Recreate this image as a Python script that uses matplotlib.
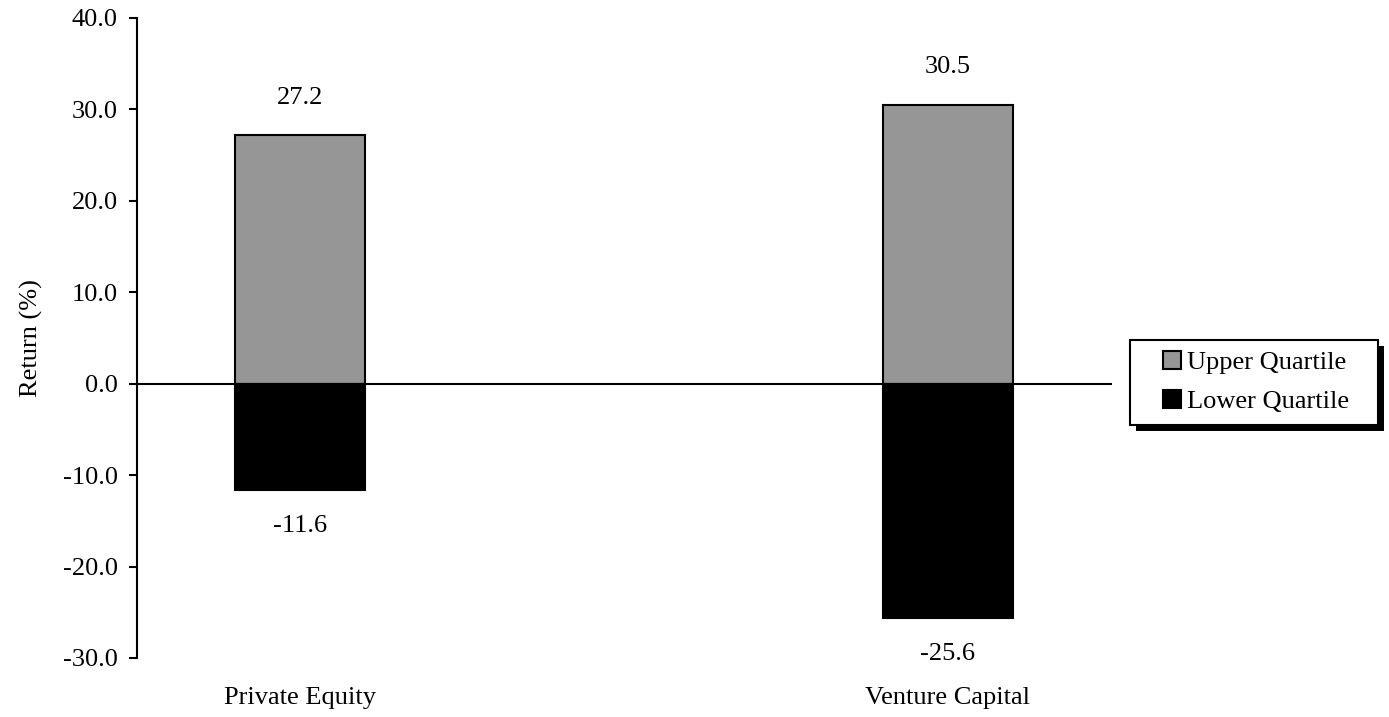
import matplotlib
matplotlib.use("Agg")
import matplotlib.pyplot as plt
from matplotlib.patches import Rectangle
import numpy as np

categories = ["Private Equity", "Venture Capital"]
upper_quartile = [27.2, 30.5]
lower_quartile = [-11.6, -25.6]
yticks = [-30, -20, -10, 0, 10, 20, 30, 40]

plt.rcParams["font.family"] = ["Liberation Serif", "DejaVu Serif"]
FS = 19

W, H = 1389, 717
fig = plt.figure(figsize=(W / 100, H / 100), dpi=100)
ax = fig.add_axes([137 / W, 1 - 658 / H, (1112 - 137) / W, (658 - 18) / H])
ax.set_facecolor("none")

x = np.arange(len(categories))
bw = 0.202
up = ax.bar(x, upper_quartile, bw, color="#969696", edgecolor="black",
            linewidth=1.5, label="Upper Quartile", zorder=2)
lo = ax.bar(x, lower_quartile, bw, color="black", edgecolor="black",
            linewidth=1.5, label="Lower Quartile", zorder=2)

ax.axhline(0, color="black", linewidth=1.5, zorder=3)

for xi, v in zip(x, upper_quartile):
    ax.annotate(f"{v:.1f}", (xi, v), xytext=(0, 27), textcoords="offset points",
                ha="center", va="center", fontsize=FS)
for xi, v in zip(x, lower_quartile):
    ax.annotate(f"{v:.1f}", (xi, v), xytext=(0, -26), textcoords="offset points",
                ha="center", va="center", fontsize=FS)

ax.set_xlim(-0.2515, 1.2531)
ax.set_ylim(-30, 40)
ax.set_yticks(yticks)
ax.set_yticklabels([f"{t:.1f}" for t in yticks], fontsize=FS)
ax.set_xticks(x)
ax.set_xticklabels(categories, fontsize=FS)
ax.tick_params(axis="x", length=0, pad=21)
ax.tick_params(axis="y", length=6, width=1.5, pad=8)

for s in ["top", "right", "bottom"]:
    ax.spines[s].set_visible(False)
ax.spines["left"].set_linewidth(1.5)

ax.set_ylabel("Return (%)", fontsize=FS, labelpad=14)

leg = fig.legend(handles=[up, lo], loc="center",
                 bbox_to_anchor=(1256 / W, 1 - 382 / H),
                 fontsize=FS, frameon=False, handlelength=0.7,
                 handleheight=0.65, handletextpad=0.22, borderpad=0.2,
                 labelspacing=0.6, borderaxespad=0)

# Legend box with a solid drop shadow, in figure pixel coordinates
bx0, bx1 = 1130, 1378
by_top, by_bot = 340, 425
shadow = Rectangle((bx0 + 6, H - by_bot - 6), bx1 - bx0, by_bot - by_top,
                   transform=None, facecolor="black", edgecolor="none",
                   zorder=-2)
frame = Rectangle((bx0, H - by_bot), bx1 - bx0, by_bot - by_top,
                  transform=None, facecolor="white", edgecolor="black",
                  linewidth=1.5, zorder=-1)
fig.patches.extend([shadow, frame])

fig.savefig("out.png", dpi=100, facecolor="white")
